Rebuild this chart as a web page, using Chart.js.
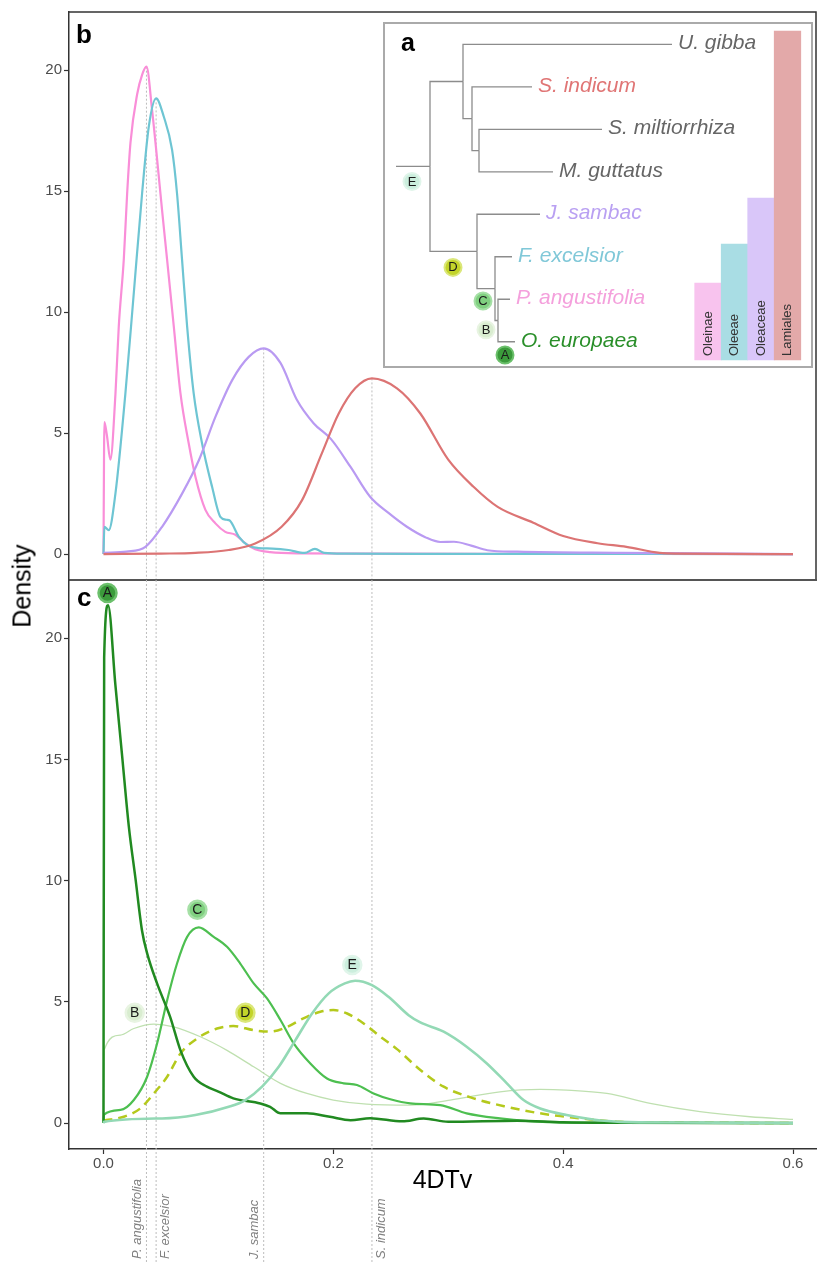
<!DOCTYPE html>
<html>
<head>
<meta charset="utf-8">
<script src="https://cdn.jsdelivr.net/npm/chart.js@4.4.1/dist/chart.umd.min.js"></script>
<style>
html, body { margin: 0; padding: 0; background: #fff; }
#page { position: relative; width: 817px; height: 1262px; overflow: hidden; font-family: "Liberation Sans", Arial, sans-serif; }
.pane { position: absolute; }
#topPane { left: 0; top: 0; }
#botPane { left: 0; top: 579px; }
#treePane { left: 383px; top: 22px; width: 430px; height: 346px; border: 2px solid #aaa; box-sizing: border-box; background: #fff; }
#treePane canvas { display: block; }
.tag { position: absolute; font-weight: bold; color: #000; line-height: 1; }
#ylab { position: absolute; left: 22px; top: 586px; transform: translate(-50%, -50%) rotate(-90deg); font-size: 25px; line-height: 1; white-space: nowrap; color: #000; }
</style>
</head>
<body>
<div id="page">
  <div class="pane" id="topPane"><canvas id="topChart" width="817" height="581"></canvas></div>
  <div class="pane" id="botPane"><canvas id="botChart" width="817" height="683"></canvas></div>
  <div class="pane" id="treePane"><canvas id="treeChart" width="426" height="342"></canvas></div>
  <div class="tag" style="left:76px;top:21px;font-size:26px;">b</div>
  <div class="tag" style="left:77px;top:584px;font-size:26px;">c</div>
  <div class="tag" style="left:401px;top:30px;font-size:25px;">a</div>
  <div id="ylab">Density</div>
</div>
<script>
/* 4DTv density plots with species tree inset */

const FONT = '"Liberation Sans", Arial, sans-serif';
Chart.defaults.font.family = FONT;
Chart.defaults.animation = false;

// ---- panel b : species pairs vs O. europaea ----
const pAngustifolia = [[0,0],[0.0008,5.45],[0.003,4.9],[0.006,3.9],[0.0104,6.6],[0.0133,9.4],[0.0177,12.2],[0.0206,14.9],
  [0.0235,17.0],[0.0293,19.0],[0.0336,19.8],[0.0374,20.14],[0.0423,18.35],[0.0467,16.3],[0.051,14.2],[0.0554,12.15],
  [0.0612,9.4],[0.067,6.64],[0.0742,4.57],[0.08,3.2],[0.0887,1.83],[0.0974,1.27],[0.106,0.92],[0.1148,0.8],
  [0.1235,0.44],[0.132,0.2],[0.145,0.08],[0.17,0.03],[0.25,0.02],[0.4,0.01],[0.6,0]];
const fExcelsior = [[0,0],[0.0008,1.13],[0.0046,0.99],[0.0104,2.5],[0.019,6.6],[0.0264,10.8],[0.0336,14.9],[0.0394,17.65],
  [0.0458,18.83],[0.0525,18.07],[0.0597,16.7],[0.064,14.9],[0.0684,12.15],[0.0728,9.4],[0.0785,6.64],[0.0858,4.57],
  [0.0945,2.78],[0.1017,1.54],[0.107,1.42],[0.11,1.38],[0.1177,0.72],[0.126,0.35],[0.135,0.25],[0.147,0.23],
  [0.161,0.17],[0.175,0.05],[0.184,0.22],[0.192,0.05],[0.21,0.02],[0.3,0.01],[0.6,0]];
const jSambac = [[0,0.05],[0.02,0.1],[0.0365,0.3],[0.051,1.13],[0.0684,2.5],[0.083,3.88],[0.0974,5.67],[0.112,7.19],
  [0.1264,8.15],[0.1394,8.5],[0.154,7.9],[0.168,6.4],[0.183,5.4],[0.198,4.75],[0.215,3.6],[0.232,2.37],[0.248,1.7],
  [0.264,1.13],[0.28,0.7],[0.293,0.5],[0.305,0.51],[0.32,0.35],[0.334,0.16],[0.36,0.1],[0.45,0.05],[0.6,0]];
const sIndicum = [[0,0],[0.05,0.02],[0.08,0.05],[0.109,0.17],[0.132,0.44],[0.155,1.13],[0.1728,2.23],[0.19,4.16],
  [0.2046,5.8],[0.219,6.85],[0.2336,7.26],[0.2554,6.85],[0.2757,5.81],[0.3,3.9],[0.322,2.78],[0.343,1.95],
  [0.374,1.3],[0.4,0.75],[0.43,0.45],[0.455,0.3],[0.484,0.05],[0.5,0.02],[0.6,0]];

// ---- panel c : paralog peaks in O. europaea (nodes A-E) ----
const nodeA = [[0,0],[0.0006,19.2],[0.004,21.36],[0.0104,18.05],[0.0162,15.16],[0.022,12.26],[0.0278,10.1],[0.0336,7.92],
  [0.038,7.0],[0.0467,5.75],[0.058,4.38],[0.067,3.0],[0.0785,1.91],[0.09,1.5],[0.1,1.3],[0.113,1.02],[0.1365,0.81],
  [0.145,0.67],[0.154,0.4],[0.177,0.4],[0.197,0.26],[0.215,0.12],[0.232,0.2],[0.26,0.07],[0.2786,0.19],[0.3,0.05],
  [0.36,0.1],[0.4,0.03],[0.45,0.01],[0.6,0]];
const nodeB = [[0,0],[0.0005,3.0],[0.0148,3.63],[0.0264,3.9],[0.0438,4.08],[0.061,3.97],[0.0843,3.56],[0.1075,3.0],
  [0.1307,2.32],[0.154,1.64],[0.177,1.22],[0.2,0.95],[0.229,0.78],[0.267,0.74],[0.3017,0.95],[0.345,1.29],[0.38,1.39],
  [0.403,1.36],[0.438,1.22],[0.4757,0.81],[0.519,0.47],[0.5626,0.26],[0.6,0.15]];
const nodeC = [[0,0],[0.0005,0.35],[0.0148,0.54],[0.0264,0.95],[0.038,1.91],[0.0467,3.29],[0.0554,5.07],[0.064,6.58],
  [0.0728,7.68],[0.0829,8.07],[0.0959,7.68],[0.1075,7.27],[0.119,6.58],[0.1307,5.76],[0.1423,5.14],[0.154,4.25],
  [0.1655,3.29],[0.18,2.46],[0.1945,1.84],[0.209,1.64],[0.2206,1.57],[0.235,1.22],[0.2496,0.98],[0.267,0.81],
  [0.293,0.74],[0.316,0.4],[0.345,0.19],[0.37,0.08],[0.4,0.02],[0.6,0]];
const nodeD = [[0,0.1],[0.0177,0.26],[0.032,0.6],[0.0438,1.22],[0.0554,1.91],[0.067,2.87],[0.0815,3.49],[0.0988,3.9],
  [0.113,4.0],[0.1307,3.83],[0.145,3.77],[0.16,3.97],[0.174,4.32],[0.1887,4.59],[0.2,4.66],[0.212,4.52],[0.2264,4.11],
  [0.241,3.56],[0.2554,3.05],[0.2757,2.19],[0.296,1.5],[0.322,1.02],[0.351,0.67],[0.38,0.4],[0.403,0.26],
  [0.4235,0.15],[0.45,0.05],[0.5,0.02],[0.6,0]];
const nodeE = [[0,0],[0.0005,0.05],[0.051,0.19],[0.08,0.33],[0.109,0.67],[0.1235,0.95],[0.138,1.5],[0.1525,2.32],
  [0.167,3.42],[0.1815,4.52],[0.196,5.35],[0.21,5.76],[0.219,5.87],[0.2336,5.69],[0.248,5.21],[0.2655,4.45],
  [0.2757,4.15],[0.296,3.77],[0.316,3.15],[0.3336,2.46],[0.351,1.64],[0.3655,0.95],[0.38,0.6],[0.403,0.33],
  [0.426,0.15],[0.45,0.05],[0.5,0.02],[0.6,0]];

// circled node letters in panel c (data coords)
const peakLetters = ['A','B','C','D','E'];
const peakLetterX = [0.0035, 0.0272, 0.0817, 0.1235, 0.2165];
const peakLetterY = [21.86, 4.55, 8.8, 4.55, 6.52];

const xRange = [-0.03, 0.62];
const yRange = [-1.07, 22.4];
const xStep = 0.2, yStep = 5;

// species whose modes get a dotted guide line
const guideNames = ['P. angustifolia', 'F. excelsior', 'J. sambac', 'S. indicum'];
const guideSeries = [pAngustifolia, fExcelsior, jSambac, sIndicum];

// ---- panel a : tree ----
const tipNames = ['U. gibba','S. indicum','S. miltiorrhiza','M. guttatus','J. sambac','F. excelsior','P. angustifolia','O. europaea'];
const tipDepth = [2.87, 1.47, 2.17, 1.68, 1.55, 1.27, 1.25, 1.30];
const nodeNames = ['root','n1','n2','n3','oleaceae','oleeae','oleinae'];
const nodeDepth = [0.45, 0.78, 0.87, 0.94, 0.92, 1.10, 1.13];
const nodeChildren = [['n1','oleaceae'],['U. gibba','n2'],['S. indicum','n3'],['S. miltiorrhiza','M. guttatus'],
  ['J. sambac','oleeae'],['F. excelsior','oleinae'],['P. angustifolia','O. europaea']];
const rootStemFrom = 0.11;
const treeLetters = ['E','D','C','B','A'];
const treeLetterX = [0.27, 0.68, 0.98, 1.01, 1.20];
const treeLetterY = [3.23, 5.25, 6.04, 6.72, 7.31];
const cladeNames = ['Oleinae','Oleeae','Oleaceae','Lamiales'];
const cladeTop = [5.62, 4.70, 3.62, -0.31];
const cladeBase = 7.43;

// colours
const speciesColor = { 'P. angustifolia':'#f98ed8', 'F. excelsior':'#6ec5d3', 'J. sambac':'#b99af2', 'S. indicum':'#dc7474' };
const tipColor = ['#666','#e07575','#666','#666','#b9a0f2','#80c8d8','#f4a0dc','#2a8f2a'];
const letterFill = { A:'#3b9b3b', B:'#d9edd0', C:'#80d080', D:'#c3d42a', E:'#cbeedd' };
const letterRing = { A:'#6cc06c', B:'#e8f4e2', C:'#a6e0a6', D:'#dbe77a', E:'#e0f5ea' };
const cladeColor = ['#f8c3ee','#a9dde4','#d9c6f9','#e3a9a9'];

function pts(arr) { return arr.map(p => ({ x: p[0], y: p[1] })); }

function curve(label, arr, color, width, dash) {
    return {
        label: label, data: pts(arr), showLine: true, borderColor: color, borderWidth: width,
        borderDash: dash || [], pointRadius: 0, fill: false, cubicInterpolationMode: 'monotone'
    };
}

function modeOf(arr) {
    let best = arr[0];
    arr.forEach(p => { if (p[1] > best[1]) best = p; });
    return best;
}
const guideModes = guideSeries.map(modeOf);

function yAxis() {
    return {
        type: 'linear', min: yRange[0], max: yRange[1],
        afterFit: s => { s.width = 69; s.paddingTop = 0; s.paddingBottom = 0; },
        ticks: { stepSize: yStep, includeBounds: false, color: '#4d4d4d', font: { size: 15 }, padding: 2 },
        grid: { drawOnChartArea: false, tickLength: 5, color: '#333', tickWidth: 1.2 },
        border: { color: '#333', width: 1.5 }
    };
}

// dotted guides in panel b: from each mode down to the panel bottom
const topGuides = {
    id: 'topGuides',
    beforeDatasetsDraw(chart) {
        const { ctx, chartArea, scales } = chart;
        ctx.save();
        ctx.strokeStyle = '#bdbdbd';
        ctx.lineWidth = 1;
        ctx.setLineDash([2, 2]);
        guideModes.forEach(m => {
            const px = scales.x.getPixelForValue(m[0]);
            ctx.beginPath();
            ctx.moveTo(px, scales.y.getPixelForValue(m[1]));
            ctx.lineTo(px, chartArea.bottom);
            ctx.stroke();
        });
        ctx.restore();
    },
    afterDraw(chart) {
        const { ctx, chartArea: a } = chart;
        ctx.save();
        ctx.strokeStyle = '#333';
        ctx.lineWidth = 1.5;
        ctx.beginPath();
        ctx.moveTo(a.left, a.top); ctx.lineTo(a.right, a.top); ctx.lineTo(a.right, a.bottom);
        ctx.stroke();
        ctx.strokeStyle = '#555';
        ctx.lineWidth = 2;
        ctx.beginPath();
        ctx.moveTo(a.left, a.bottom); ctx.lineTo(a.right + 1, a.bottom);
        ctx.stroke();
        ctx.restore();
    }
};

new Chart(document.getElementById('topChart'), {
    type: 'scatter',
    data: {
        datasets: [
            curve('S. indicum', sIndicum, speciesColor['S. indicum'], 2.2),
            curve('J. sambac', jSambac, speciesColor['J. sambac'], 2.2),
            curve('F. excelsior', fExcelsior, speciesColor['F. excelsior'], 2.2),
            curve('P. angustifolia', pAngustifolia, speciesColor['P. angustifolia'], 2.2)
        ]
    },
    options: {
        responsive: false,
        layout: { autoPadding: false, padding: { left: 0, right: 1, top: 12, bottom: 1 } },
        plugins: { legend: { display: false }, tooltip: { enabled: false } },
        scales: {
            x: { type: 'linear', min: xRange[0], max: xRange[1], display: false },
            y: yAxis()
        }
    },
    plugins: [topGuides]
});

// dotted guides + species names under panel c, and circled letters
const botGuides = {
    id: 'botGuides',
    beforeDatasetsDraw(chart) {
        const { ctx, chartArea, scales } = chart;
        ctx.save();
        ctx.strokeStyle = '#bdbdbd';
        ctx.lineWidth = 1;
        ctx.setLineDash([2, 2]);
        guideModes.forEach(m => {
            const px = scales.x.getPixelForValue(m[0]);
            ctx.beginPath();
            ctx.moveTo(px, chartArea.top);
            ctx.lineTo(px, chart.height);
            ctx.stroke();
        });
        ctx.restore();
    },
    afterDatasetsDraw(chart) {
        const { ctx } = chart;
        const meta = chart.getDatasetMeta(0);
        ctx.save();
        ctx.fillStyle = '#1a1a1a';
        ctx.font = '14px ' + FONT;
        ctx.textAlign = 'center';
        ctx.textBaseline = 'middle';
        meta.data.forEach((el, i) => ctx.fillText(peakLetters[i], el.x, el.y + 0.5));
        ctx.restore();
    },
    afterDraw(chart) {
        const { ctx, scales } = chart;
        ctx.save();
        ctx.fillStyle = '#808080';
        ctx.font = 'italic 13px ' + FONT;
        guideModes.forEach((m, i) => {
            const px = scales.x.getPixelForValue(m[0]);
            const leftSide = i % 2 === 0;
            ctx.save();
            ctx.translate(leftSide ? px - 3 : px + 3, chart.height - 3);
            ctx.rotate(-Math.PI / 2);
            ctx.textAlign = 'left';
            ctx.textBaseline = leftSide ? 'bottom' : 'top';
            ctx.fillText(guideNames[i], 0, 0);
            ctx.restore();
        });
        ctx.restore();
    }
};

new Chart(document.getElementById('botChart'), {
    type: 'scatter',
    data: {
        datasets: [
            {
                label: 'nodes', showLine: false,
                data: peakLetters.map((l, i) => ({ x: peakLetterX[i], y: peakLetterY[i] })),
                pointRadius: 9, pointBackgroundColor: peakLetters.map(l => letterFill[l]),
                pointBorderColor: peakLetters.map(l => letterRing[l]), pointBorderWidth: 2.5
            },
            curve('E', nodeE, '#93d9b5', 2.6),
            curve('A', nodeA, '#218a21', 2.5),
            curve('C', nodeC, '#4dbf50', 2.2),
            curve('D', nodeD, '#b4c91c', 2.5, [9, 6]),
            curve('B', nodeB, '#bfe0b0', 1.3)
        ]
    },
    options: {
        responsive: false,
        layout: { autoPadding: false, padding: { left: 0, right: 1, top: 1, bottom: 62 } },
        plugins: { legend: { display: false }, tooltip: { enabled: false } },
        scales: {
            x: {
                type: 'linear', min: xRange[0], max: xRange[1],
                afterFit: s => { s.height = 51; s.paddingLeft = 0; s.paddingRight = 0; },
                ticks: { stepSize: xStep, includeBounds: false, color: '#4d4d4d', font: { size: 15 }, padding: 1,
                    callback: v => Number(v).toFixed(1) },
                grid: { drawOnChartArea: false, tickLength: 5, color: '#333', tickWidth: 1.2 },
                border: { color: '#333', width: 1.5 },
                title: { display: true, text: '4DTv', color: '#000', font: { size: 25 }, padding: { top: 4, bottom: 4 } }
            },
            y: yAxis()
        }
    },
    plugins: [botGuides]
});

// ---- tree inset ----
const tipY = {};
tipNames.forEach((n, i) => { tipY[n] = i; });
const depthOf = {};
tipNames.forEach((n, i) => { depthOf[n] = tipDepth[i]; });
nodeNames.forEach((n, i) => { depthOf[n] = nodeDepth[i]; });
function yOf(name) {
    if (name in tipY) return tipY[name];
    const kids = nodeChildren[nodeNames.indexOf(name)];
    return (yOf(kids[0]) + yOf(kids[1])) / 2;
}
const edges = [[[rootStemFrom, yOf('root')], [depthOf.root, yOf('root')]]];
nodeNames.forEach((n, i) => {
    const ny = yOf(n);
    nodeChildren[i].forEach(c => {
        const cy = yOf(c);
        edges.push([[nodeDepth[i], ny], [nodeDepth[i], cy], [depthOf[c], cy]]);
    });
});

const cladeX0 = 3.23, cladeStep = 0.265;

const treeText = {
    id: 'treeText',
    afterDatasetsDraw(chart) {
        const { ctx, scales } = chart;
        ctx.save();
        // tip labels
        ctx.font = 'italic 21px ' + FONT;
        ctx.textAlign = 'left';
        ctx.textBaseline = 'middle';
        tipNames.forEach((n, i) => {
            ctx.fillStyle = tipColor[i];
            ctx.fillText(n, scales.x.getPixelForValue(tipDepth[i]) + 6, scales.y.getPixelForValue(i) - 1);
        });
        // clade bar labels
        ctx.font = '13px ' + FONT;
        ctx.fillStyle = '#333';
        cladeNames.forEach((n, i) => {
            ctx.save();
            ctx.translate(scales.x.getPixelForValue(cladeX0 + i * cladeStep), scales.y.getPixelForValue(cladeBase) - 4);
            ctx.rotate(-Math.PI / 2);
            ctx.textAlign = 'left';
            ctx.textBaseline = 'middle';
            ctx.fillText(n, 0, 0);
            ctx.restore();
        });
        // node letters
        const meta = chart.getDatasetMeta(0);
        ctx.font = '13px ' + FONT;
        ctx.fillStyle = '#1a1a1a';
        ctx.textAlign = 'center';
        ctx.textBaseline = 'middle';
        meta.data.forEach((el, i) => ctx.fillText(treeLetters[i], el.x, el.y + 0.5));
        ctx.restore();
    }
};

const treeDatasets = [{
    label: 'tree nodes', showLine: false,
    data: treeLetters.map((l, i) => ({ x: treeLetterX[i], y: treeLetterY[i] })),
    pointRadius: 8.5, pointBackgroundColor: treeLetters.map(l => letterFill[l]),
    pointBorderColor: treeLetters.map(l => letterRing[l]), pointBorderWidth: 2
}];
edges.forEach(e => treeDatasets.push({
    data: pts(e), showLine: true, borderColor: '#8c8c8c', borderWidth: 1.3, pointRadius: 0, tension: 0
}));
treeDatasets.push({
    type: 'bar', label: 'clades',
    data: cladeNames.map((n, i) => ({ x: cladeX0 + i * cladeStep, y: [cladeTop[i], cladeBase] })),
    backgroundColor: cladeColor, borderWidth: 0, barThickness: 26.6
});

new Chart(document.getElementById('treeChart'), {
    type: 'scatter',
    data: { datasets: treeDatasets },
    options: {
        responsive: false,
        layout: { autoPadding: false, padding: 0 },
        plugins: { legend: { display: false }, tooltip: { enabled: false } },
        scales: {
            x: { type: 'linear', min: 0, max: 4.26, offset: false, grid: { offset: false }, display: false },
            y: { type: 'linear', min: -0.478, max: 7.571, reverse: true, display: false }
        }
    },
    plugins: [treeText]
});
</script>
</body>
</html>
